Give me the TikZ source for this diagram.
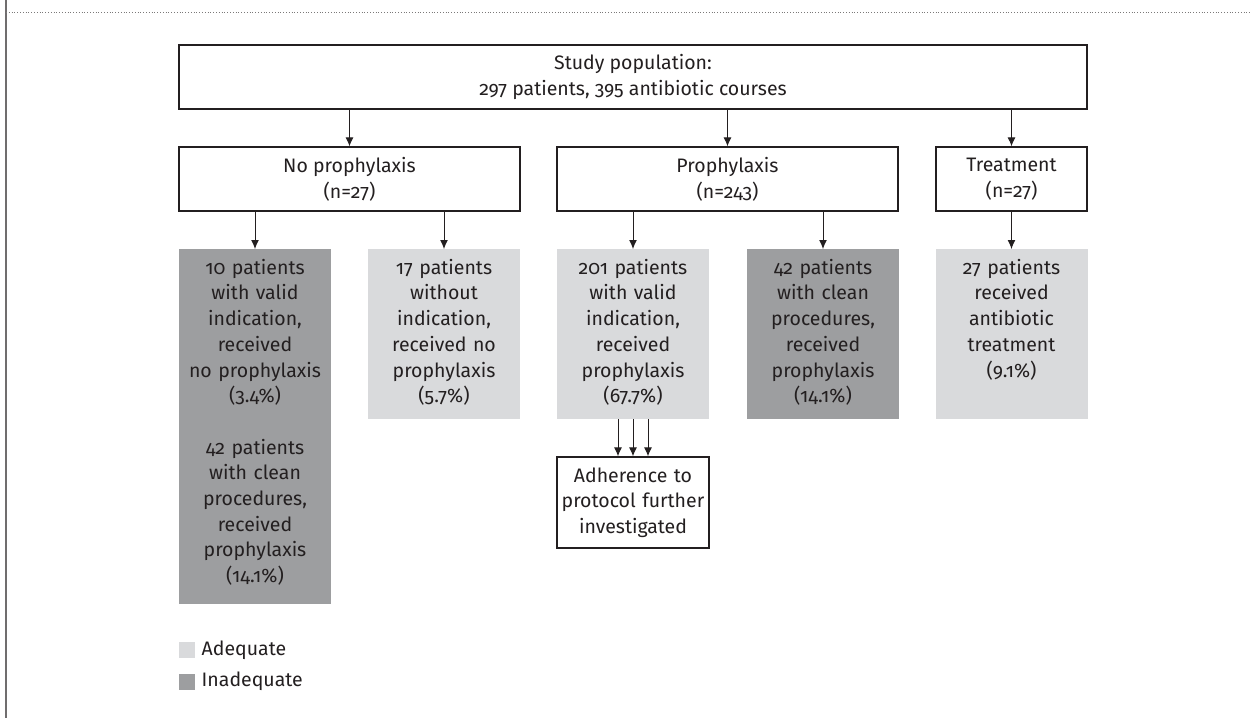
\documentclass[tikz,border=0pt]{standalone}
\usepackage{fontspec}
\setmainfont{Fira Sans}[Numbers=OldStyle]
\usepackage{xcolor}
\usepackage{tikz}
\usetikzlibrary{positioning}
\usetikzlibrary{arrows.meta}
\definecolor{adequate}{HTML}{D9DADC}
\definecolor{inadequate}{HTML}{9D9EA0}
\definecolor{ink}{HTML}{231F20}
\tikzset{edge/.style = {-{Latex[length=9pt,width=8pt]}, line width=1pt, draw=ink}}

\begin{document}
\begin{tikzpicture}[x=1pt,y=-1pt,
    every node/.style={font=\fontsize{19.5}{25.7}\selectfont, text=ink},
    main node/.style={draw=ink, line width=1.3pt, align=center, inner sep=0pt, minimum height=64pt},
    result node/.style={anchor=north, align=center, inner sep=0pt, text width=152pt, text height=25pt},
    key box/.style={minimum size=16pt, inner sep=0pt}]
    \useasboundingbox (0,0) rectangle (1250,718);
    % frame of the figure
    \draw[line width=1.5pt, ink!65] (6,0) -- (6,718);
    \draw[dotted, line width=0.8pt, ink!60] (6,12) -- (1250,12);

    \node[main node, minimum width=908pt] (pop) at (633,77) {Study population:\\297 patients, 395 antibiotic courses};
    \node[main node, minimum width=341pt] (nopro) at (349.5,179) {No prophylaxis\\(n=27)};
    \node[main node, minimum width=341pt] (pro) at (727.5,179) {Prophylaxis\\(n=243)};
    \node[main node, minimum width=151pt] (treat) at (1011.5,179) {Treatment\\(n=27)};

    \node[result node, fill=inadequate, text depth=330pt] (noval) at (255,249)
        {10 patients\\with valid\\indication,\\received\\no prophylaxis\\(3.4\%)\\[25.7pt]
         42 patients\\with clean\\procedures,\\received\\prophylaxis\\(14.1\%)};
    \node[result node, fill=adequate, text depth=145pt] (noind) at (444,249)
        {17 patients\\without\\indication,\\received no\\prophylaxis\\(5.7\%)};
    \node[result node, fill=adequate, text depth=145pt] (valid) at (633,249)
        {201 patients\\with valid\\indication,\\received\\prophylaxis\\(67.7\%)};
    \node[result node, fill=inadequate, text depth=145pt] (clean) at (823,249)
        {42 patients\\with clean\\procedures,\\received\\prophylaxis\\(14.1\%)};
    \node[result node, fill=adequate, text depth=145pt] (abx) at (1011.5,249)
        {27 patients\\received\\antibiotic\\treatment\\(9.1\%)};

    \node[main node, text width=152pt, minimum height=91pt] (adher) at (633,502.5)
        {Adherence to\\protocol further\\investigated};

    \draw[edge] (pop.south -| nopro.north) -- (nopro.north);
    \draw[edge] (pop.south -| pro.north) -- (pro.north);
    \draw[edge] (pop.south -| treat.north) -- (treat.north);

    \draw[edge] (nopro.south -| noval.north) -- (noval.north);
    \draw[edge] (nopro.south -| noind.north) -- (noind.north);
    \draw[edge] (pro.south -| valid.north) -- (valid.north);
    \draw[edge] (pro.south -| clean.north) -- (clean.north);
    \draw[edge] (treat.south) -- (abx.north);

    \foreach \dx in {-15,0,15}
        \draw[edge] ([xshift=\dx pt]valid.south) -- ([xshift=\dx pt]adher.north);

    % key
    \node[key box, fill=adequate] (keyad) at (187,650) {};
    \node[right=3pt of keyad] {Adequate};
    \node[key box, fill=inadequate] (keyin) at (187,681.5) {};
    \node[right=3pt of keyin] {Inadequate};
\end{tikzpicture}
\end{document}
